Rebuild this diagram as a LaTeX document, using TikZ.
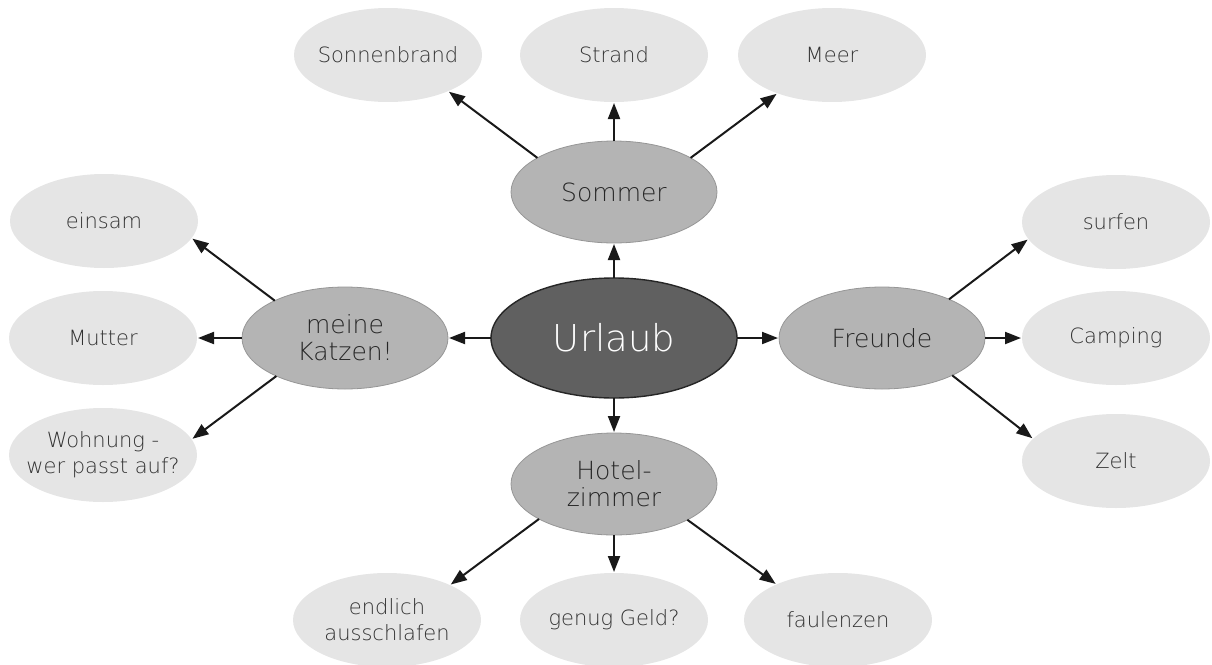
\documentclass[tikz,border=0pt]{standalone}
\usepackage{fontspec}
\setmainfont{DejaVu Sans}[UprightFont=* ExtraLight]
\usetikzlibrary{shapes.geometric,arrows.meta}

\definecolor{leafgray}{RGB}{229,229,229}
\definecolor{midgray}{RGB}{180,180,180}
\definecolor{midline}{RGB}{150,150,150}
\definecolor{hubgray}{RGB}{96,96,96}
\definecolor{inkgray}{RGB}{50,50,50}

% a line of text that does not widen its ellipse
\newcommand\zw[1]{\makebox[0pt]{#1}}

\tikzset{
  blob/.style={ellipse, inner sep=0pt, outer sep=0pt, align=center},
  leaf/.style={blob, fill=leafgray, minimum width=188pt, minimum height=94pt,
    text=inkgray, font=\fontsize{21}{26}\selectfont},
  branch/.style={blob, fill=midgray, draw=midline, line width=0.8pt,
    minimum width=206pt, minimum height=102pt,
    text=black!85, font=\fontsize{25}{27}\selectfont},
  hub/.style={blob, fill=hubgray, draw=black!85, line width=1.4pt,
    minimum width=246pt, minimum height=120pt,
    text=white, font=\fontsize{37}{40}\selectfont},
  link/.style={-{Triangle[length=16pt,width=12pt]}, line width=2pt, black!90,
    shorten >=1pt}
}

\begin{document}
\begin{tikzpicture}[x=1pt,y=-1pt]
\useasboundingbox (0,0) rectangle (1212,664);

% centre
\node[hub] (urlaub) at (614,338) {Urlaub};

% main branches
\node[branch] (sommer)  at (614,192) {Sommer};
\node[branch] (katzen)  at (345,338) {meine\\Katzen!};
\node[branch] (freunde) at (882,338) {Freunde};
\node[branch] (hotel)   at (614,484) {Hotel-\\zimmer};

% ideas above
\node[leaf] (sonne)  at (388,55) {\zw{Sonnenbrand}};
\node[leaf] (strand) at (614,55) {Strand};
\node[leaf] (meer)   at (832,55) {Meer};

% ideas on the left
\node[leaf] (einsam)  at (104,221) {einsam};
\node[leaf] (mutter)  at (103,338) {Mutter};
\node[leaf] (wohnung) at (103,455) {\zw{Wohnung -}\\\zw{wer passt auf?}};

% ideas on the right
\node[leaf] (surfen)  at (1116,222) {surfen};
\node[leaf] (camping) at (1116,338) {Camping};
\node[leaf] (zelt)    at (1116,461) {Zelt};

% ideas below
\node[leaf] (endlich) at (387,620) {\zw{endlich}\\\zw{ausschlafen}};
\node[leaf] (geld)    at (614,620) {\zw{genug Geld?}};
\node[leaf] (faul)    at (838,620) {faulenzen};

% centre to branches
\draw[link] (urlaub.90)  -- (sommer.-90);
\draw[link] (urlaub.180) -- (katzen.0);
\draw[link] (urlaub.0)   -- (freunde.180);
\draw[link] (urlaub.-90) -- (hotel.90);

% branches to ideas
\draw[link] (sommer.156) -- (sonne.-31);
\draw[link] (sommer.90)  -- (strand.-90);
\draw[link] (sommer.24)  -- (meer.215);

\draw[link] (katzen.152) -- (einsam.-11);
\draw[link] (katzen.180) -- (mutter.0);
\draw[link] (katzen.209) -- (wohnung.10);

\draw[link] (freunde.30)  -- (surfen.191);
\draw[link] (freunde.0)   -- (camping.180);
\draw[link] (freunde.332) -- (zelt.165);

\draw[link] (hotel.205) -- (endlich.29);
\draw[link] (hotel.-90) -- (geld.90);
\draw[link] (hotel.334) -- (faul.150);
\end{tikzpicture}
\end{document}
